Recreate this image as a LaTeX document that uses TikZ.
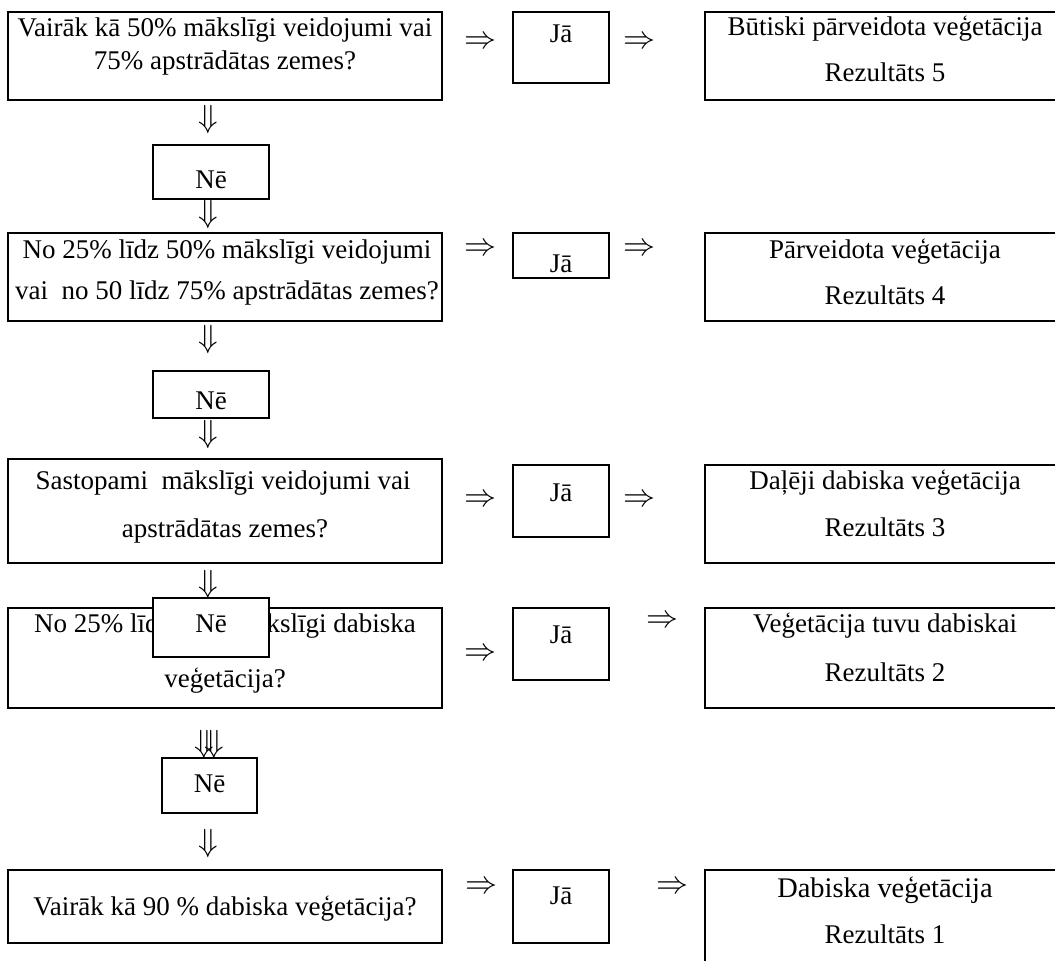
\documentclass[tikz,border=0pt]{standalone}
\usepackage{fontspec}
\setmainfont{Liberation Serif}
\begin{document}
\begin{tikzpicture}[x=0.5pt,y=-0.5pt,
  box/.style={draw, line width=0.8pt, inner sep=0pt, fill=white},
  txt/.style={anchor=base, inner sep=0pt, font=\fontsize{13.5}{16}\selectfont},
  arr/.style={inner sep=0pt}]
\newcommand{\RA}{\scalebox{1.6}{$\Rightarrow$}}
\newcommand{\DA}{\scalebox{1.6}{$\Downarrow$}}
\useasboundingbox (0,0) rectangle (1055,961);
\clip (0,0) rectangle (1055,961);

% ---------- left column: questions ----------
\node[box, minimum width=217pt, minimum height=44pt] (q1) at (225,56) {};
\node[txt] (q1a) at (225,37) {Vairāk kā 50\% mākslīgi veidojumi vai};
\node[txt] (q1b) at (225,70) {75\% apstrādātas zemes?};

\node[box, minimum width=217pt, minimum height=44pt] (q2) at (225,277) {};
\node[txt] (q2a) at (227,259) {No 25\% līdz 50\% mākslīgi veidojumi};
\node[txt] (q2b) at (227,300) {vai\ \ no 50 līdz 75\% apstrādātas zemes?};

\node[box, minimum width=217pt, minimum height=52pt] (q3) at (225,511) {};
\node[txt] (q3a) at (223,490) {Sastopami\ \ mākslīgi veidojumi vai};
\node[txt] (q3b) at (225,538) {apstrādātas zemes?};

\node[box, minimum width=217pt, minimum height=50pt] (q4) at (225,658) {};
\node[txt] (q4a) at (225,633) {No 25\% līdz 50\% mākslīgi dabiska};
\node[txt] (q4b) at (225,688) {veģetācija?};

\node[box, minimum width=217pt, minimum height=36.5pt] (q5) at (225,906.5) {};
\node[txt] (q5a) at (225,915) {Vairāk kā 90 \% dabiska veģetācija?};

% ---------- "Nē" boxes ----------
\node[box, minimum width=58pt, minimum height=27pt] (n1) at (211,172) {};
\node[txt] (n1t) at (211,189) {Nē};
\node[box, minimum width=58pt, minimum height=23.5pt] (n2) at (211,394.5) {};
\node[txt] (n2t) at (211,410) {Nē};
\node[box, minimum width=58pt, minimum height=29.5pt] (n3) at (211,627.5) {};
\node[txt] (n3t) at (211,633) {Nē};
\node[box, minimum width=47.5pt, minimum height=27.5pt] (n4) at (209.5,785.5) {};
\node[txt] (n4t) at (209.5,793) {Nē};

% ---------- downward arrows ----------
\node[arr] (d1) at (208,120) {\DA};
\node[arr] (d2) at (208,215) {\DA};
\node[arr] (d3) at (208,340) {\DA};
\node[arr] (d4) at (208,435) {\DA};
\node[arr] (d5) at (208,585) {\DA};
\node[arr] (d6a) at (204,745) {\DA};
\node[arr] (d6b) at (214,745) {\DA};
\node[arr] (d7) at (208,843) {\DA};

% ---------- "Jā" boxes ----------
\node[box, minimum width=48pt, minimum height=35.5pt] (j1) at (561,47.5) {};
\node[txt] (j1t) at (561,43) {Jā};
\node[box, minimum width=48pt, minimum height=22.5pt] (j2) at (561,255.5) {};
\node[txt] (j2t) at (561,273) {Jā};
\node[box, minimum width=48pt, minimum height=36pt] (j3) at (561,501) {};
\node[txt] (j3t) at (561,502) {Jā};
\node[box, minimum width=48pt, minimum height=36pt] (j4) at (561,644) {};
\node[txt] (j4t) at (561,644) {Jā};
\node[box, minimum width=48pt, minimum height=36.5pt] (j5) at (561,906.5) {};
\node[txt] (j5t) at (561,904) {Jā};

% ---------- right arrows ----------
\node[arr] (r1a) at (480,43) {\RA};
\node[arr] (r1b) at (639,43) {\RA};
\node[arr] (r2a) at (480,250) {\RA};
\node[arr] (r2b) at (639,250) {\RA};
\node[arr] (r3a) at (480,501) {\RA};
\node[arr] (r3b) at (639,501) {\RA};
\node[arr] (r4a) at (480,655) {\RA};
\node[arr] (r4b) at (662,622) {\RA};
\node[arr] (r5a) at (481,888) {\RA};
\node[arr] (r5b) at (672,888) {\RA};

% ---------- results ----------
\node[box, minimum width=180pt, minimum height=44pt] (res5) at (885,56) {};
\node[txt] (res5a) at (885,36) {Būtiski pārveidota veģetācija};
\node[txt] (res5b) at (885,82) {Rezultāts 5};

\node[box, minimum width=180pt, minimum height=44pt] (res4) at (885,277) {};
\node[txt] (res4a) at (885,259) {Pārveidota veģetācija};
\node[txt] (res4b) at (885,305) {Rezultāts 4};

\node[box, minimum width=180pt, minimum height=49pt] (res3) at (885,514) {};
\node[txt] (res3a) at (885,490) {Daļēji dabiska veģetācija};
\node[txt] (res3b) at (885,537) {Rezultāts 3};

\node[box, minimum width=180pt, minimum height=50pt] (res2) at (885,658) {};
\node[txt] (res2a) at (885,633) {Veģetācija tuvu dabiskai};
\node[txt] (res2b) at (885,682) {Rezultāts 2};

\node[box, minimum width=180pt, minimum height=60pt] (res1) at (885,930) {};
\node[txt, font=\fontsize{14.2}{17}\selectfont] (res1a) at (885,898) {Dabiska veģetācija};
\node[txt] (res1b) at (885,943) {Rezultāts 1};
\end{tikzpicture}
\end{document}
